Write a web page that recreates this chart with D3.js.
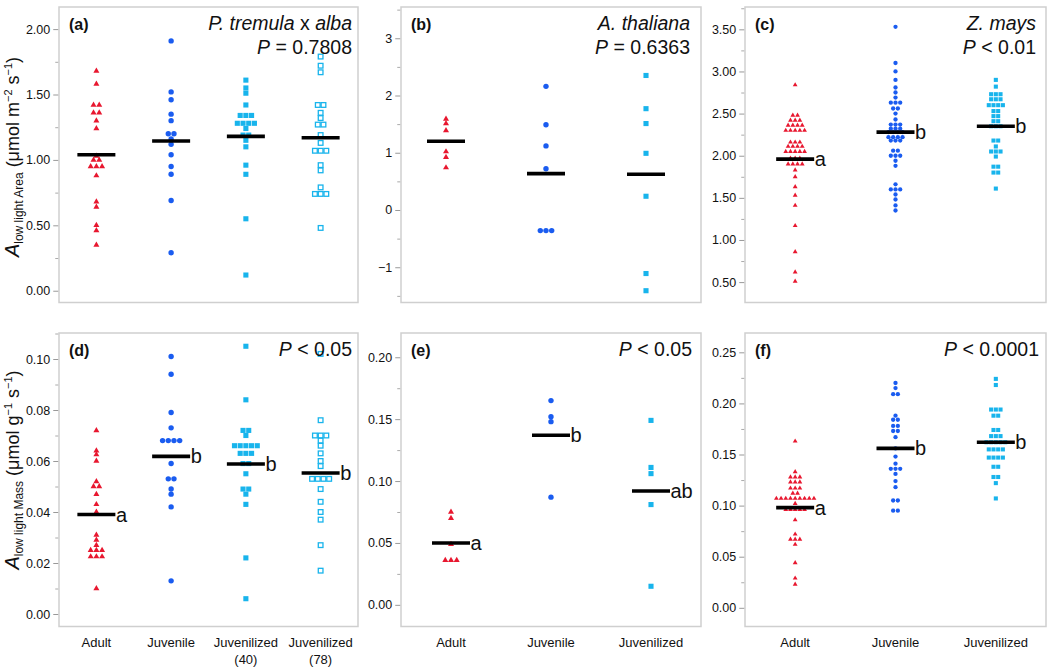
<!DOCTYPE html>
<html><head><meta charset="utf-8">
<script src="https://cdn.jsdelivr.net/npm/d3@7"></script>
<style>
body{margin:0;background:#fff}
svg{display:block}
text{font-family:"Liberation Sans",Arial,Helvetica,sans-serif}
</style>
</head><body>
<svg id="chart" width="1050" height="671"></svg>
<script>
// ---------------- DATA ----------------
const catsPoplar = ["Adult", "Juvenile", "Juvenilized (40)", "Juvenilized (78)"];
const catsOther = ["Adult", "Juvenile", "Juvenilized"];
const xLabelsPoplar = [["Adult"], ["Juvenile"], ["Juvenilized", "(40)"], ["Juvenilized", "(78)"]];
const xLabelsOther = [["Adult"], ["Juvenile"], ["Juvenilized"]];

// (a) P. tremula x alba, area basis
const aAdult = [1.68, 1.58, 1.42, 1.42, 1.36, 1.36, 1.30, 1.24, 1.03, 1.00, 1.00, 0.95, 0.95, 0.95, 0.88, 0.68, 0.64, 0.50, 0.46, 0.35];
const aJuvenile = [1.91, 1.52, 1.46, 1.35, 1.30, 1.20, 1.20, 1.16, 1.12, 1.04, 0.95, 0.89, 0.69, 0.29];
const aJuvenilized40 = [1.61, 1.55, 1.51, 1.42, 1.34, 1.34, 1.34, 1.28, 1.28, 1.28, 1.28, 1.24, 1.19, 1.19, 1.15, 1.10, 0.96, 0.89, 0.55, 0.12];
const aJuvenilized78 = [1.79, 1.72, 1.67, 1.42, 1.42, 1.36, 1.32, 1.27, 1.27, 1.19, 1.13, 1.07, 1.07, 1.07, 0.96, 0.92, 0.79, 0.74, 0.74, 0.74, 0.48];
const aMeans = [1.04, 1.145, 1.18, 1.17];

// (b) A. thaliana, area basis
const bAdult = [1.59, 1.51, 1.39, 1.02, 0.92, 0.74];
const bJuvenile = [2.16, 1.49, 1.12, 0.72, -0.36, -0.36, -0.36];
const bJuvenilized = [2.35, 1.77, 1.51, 0.99, 0.24, -1.11, -1.41];
const bMeans = [1.20, 0.635, 0.625];

// (c) Z. mays, area basis
const cAdult = [2.84, 2.48, 2.48, 2.42, 2.42, 2.42, 2.36, 2.36, 2.36, 2.36, 2.30, 2.30, 2.30, 2.30, 2.30,
  2.16, 2.16, 2.16, 2.11, 2.11, 2.11, 2.11, 2.05, 2.05, 2.05, 2.05, 2.05, 1.97, 1.97, 1.97,
  1.90, 1.90, 1.90, 1.90, 1.83, 1.75, 1.63, 1.53, 1.41, 1.17, 0.86, 0.62, 0.51];
const cJuvenile = [3.53, 3.10, 3.00, 2.90, 2.81, 2.75, 2.69, 2.63, 2.63, 2.63, 2.56, 2.56, 2.50, 2.43,
  2.37, 2.37, 2.37, 2.32, 2.32, 2.32, 2.28, 2.28, 2.28, 2.28, 2.22, 2.22, 2.22, 2.22, 2.18, 2.18, 2.18,
  2.06, 2.06, 2.00, 2.00, 2.00, 1.94, 1.88, 1.66, 1.60, 1.60, 1.60, 1.54, 1.48, 1.41, 1.35];
const cJuvenilized = [2.90, 2.82, 2.73, 2.73, 2.73, 2.67, 2.67, 2.67, 2.60, 2.60, 2.60, 2.60, 2.53, 2.53,
  2.47, 2.47, 2.41, 2.41, 2.35, 2.35, 2.35, 2.18, 2.18, 2.11, 2.05, 2.05, 2.05, 1.99, 1.87, 1.87, 1.80, 1.80, 1.61];
const cMeans = [1.96, 2.28, 2.35];

// (d) P. tremula x alba, mass basis
const dAdult = [0.072, 0.064, 0.0625, 0.060, 0.052, 0.050, 0.050, 0.047, 0.043, 0.040, 0.031, 0.029, 0.027, 0.025, 0.025, 0.025, 0.0225, 0.0225, 0.0225, 0.010];
const dJuvenile = [0.101, 0.094, 0.079, 0.073, 0.068, 0.068, 0.068, 0.068, 0.059, 0.053, 0.053, 0.049, 0.047, 0.042, 0.013];
const dJuvenilized40 = [0.105, 0.084, 0.072, 0.072, 0.070, 0.066, 0.066, 0.066, 0.066, 0.066, 0.063, 0.063, 0.063, 0.059, 0.059, 0.055, 0.049, 0.049, 0.047, 0.043, 0.022, 0.006];
const dJuvenilized78 = [0.102, 0.076, 0.070, 0.070, 0.070, 0.068, 0.066, 0.063, 0.060, 0.058, 0.053, 0.053, 0.053, 0.053, 0.049, 0.044, 0.040, 0.037, 0.027, 0.017];
const dMeans = [0.039, 0.0618, 0.0588, 0.0553];
const dLetters = ["a", "b", "b", "b"];

// (e) A. thaliana, mass basis
const eAdult = [0.075, 0.070, 0.049, 0.036, 0.036, 0.036];
const eJuvenile = [0.165, 0.152, 0.148, 0.087];
const eJuvenilized = [0.149, 0.111, 0.106, 0.081, 0.015];
const eMeans = [0.050, 0.137, 0.092];
const eLetters = ["a", "b", "ab"];

// (f) Z. mays, mass basis
const fAdult = [0.163, 0.133, 0.128, 0.128, 0.128, 0.123, 0.123, 0.123, 0.117, 0.117, 0.117, 0.112, 0.112,
  0.107, 0.107, 0.107, 0.107, 0.107, 0.107, 0.107, 0.107, 0.107, 0.102, 0.096, 0.096, 0.096, 0.096, 0.096,
  0.086, 0.072, 0.067, 0.067, 0.067, 0.062, 0.044, 0.029, 0.023];
const fJuvenile = [0.220, 0.215, 0.209, 0.209, 0.188, 0.184, 0.184, 0.178, 0.178, 0.173, 0.173, 0.167, 0.156,
  0.148, 0.141, 0.136, 0.136, 0.136, 0.131, 0.124, 0.118, 0.105, 0.105, 0.095, 0.095];
const fJuvenilized = [0.224, 0.218, 0.194, 0.194, 0.194, 0.188, 0.188, 0.174, 0.174, 0.168, 0.168, 0.168,
  0.162, 0.162, 0.162, 0.162, 0.162, 0.155, 0.155, 0.155, 0.155, 0.147, 0.147, 0.147, 0.147,
  0.138, 0.138, 0.128, 0.128, 0.122, 0.107];
const fMeans = [0.098, 0.156, 0.162];
const cfLetters = ["a", "b", "b"];

// tick labels
const ticksA = [0, 0.5, 1, 1.5, 2];
const ticksB = [-1, 0, 1, 2, 3];
const ticksC = [0.5, 1, 1.5, 2, 2.5, 3, 3.5];
const ticksD = [0, 0.02, 0.04, 0.06, 0.08, 0.1];
const ticksE = [0, 0.05, 0.1, 0.15, 0.2];
const ticksF = [0, 0.05, 0.1, 0.15, 0.2, 0.25];

// ---------------- DRAW ----------------
const svg = d3.select("#chart");
const COLORS = ["#e8172f", "#1a5cf0", "#18b4ec", "#18b4ec"];
const SHAPES = ["triangle", "circle", "square", "hollow"];

function marker(g, shape, cx, cy, s, color) {
  if (shape === "triangle") {
    const area = Math.sqrt(3) / 4 * s * s;
    g.append("path").attr("d", d3.symbol().type(d3.symbolTriangle).size(area)())
      .attr("transform", `translate(${cx},${cy})`).attr("fill", color);
  } else if (shape === "circle") {
    g.append("circle").attr("cx", cx).attr("cy", cy).attr("r", s * 0.45).attr("fill", color);
  } else if (shape === "square") {
    const w = s * 0.85;
    g.append("rect").attr("x", cx - w / 2).attr("y", cy - w / 2).attr("width", w).attr("height", w).attr("fill", color);
  } else {
    const w = s * 0.78;
    g.append("rect").attr("x", cx - w / 2).attr("y", cy - w / 2).attr("width", w).attr("height", w)
      .attr("fill", "#fff").attr("stroke", color).attr("stroke-width", 1.3);
  }
}

function drawPanel(p) {
  const g = svg.append("g");
  const x = d3.scalePoint().domain(p.cats).range([p.x0 + p.shift, p.x1 + p.shift]).padding(0.5);
  const y = d3.scaleLinear().domain(p.domain).range([p.y1, p.y0]);

  g.append("rect").attr("x", p.x0).attr("y", p.y0).attr("width", p.x1 - p.x0).attr("height", p.y1 - p.y0)
    .attr("fill", "none").attr("stroke", "#cfcfcf").attr("stroke-width", 1.5);

  const step = p.ticks[1] - p.ticks[0];
  const minor = p.ticks.map(t => t + step / 2).filter(t => t < p.domain[1]);
  if (p.ticks[0] - step / 2 > p.domain[0]) minor.unshift(p.ticks[0] - step / 2);
  g.append("g").attr("transform", `translate(${p.x0 - 0.75},0)`)
    .call(d3.axisLeft(y).tickValues(minor).tickSize(3).tickFormat(""))
    .call(s => s.select(".domain").remove())
    .call(s => s.selectAll("line").attr("stroke", "#aaa"));
  g.append("g").attr("transform", `translate(${p.x0 - 0.75},0)`)
    .call(d3.axisLeft(y).tickValues(p.ticks).tickSize(5).tickPadding(3).tickFormat(p.fmt))
    .call(s => s.select(".domain").remove())
    .call(s => s.selectAll("line").attr("stroke", "#999"))
    .call(s => s.selectAll("text").attr("font-size", 12.5).attr("fill", "#111")
      .attr("font-family", '"Liberation Sans", Arial, sans-serif'));

  p.series.forEach((vals, i) => {
    const cx = x(p.cats[i]);
    d3.groups(vals, v => v).forEach(([v, arr]) => {
      arr.forEach((_, k) => {
        const dx = (k - (arr.length - 1) / 2) * p.sp;
        marker(g, SHAPES[i], cx + dx, y(v), p.ms, COLORS[i]);
      });
    });
  });

  p.means.forEach((m, i) => {
    const cx = x(p.cats[i]);
    g.append("line").attr("x1", cx - 19).attr("x2", cx + 19).attr("y1", y(m)).attr("y2", y(m))
      .attr("stroke", "#000").attr("stroke-width", 3.6);
    if (p.letters) {
      g.append("text").attr("x", cx + 19.5).attr("y", y(m) + 7).attr("font-size", 20).attr("fill", "#111")
        .text(p.letters[i]);
    }
  });

  g.append("text").attr("x", p.x0 + 10).attr("y", p.y0 + 23).attr("font-size", 16).attr("font-weight", "bold")
    .attr("fill", "#111").text(p.label);

  if (p.species) {
    const t = g.append("text").attr("x", p.tx).attr("y", p.y0 + 23).attr("text-anchor", "end")
      .attr("font-size", 19.5).attr("fill", "#111");
    p.species.forEach(([s, it]) => t.append("tspan").attr("font-style", it ? "italic" : "normal").text(s));
  }
  const pt = g.append("text").attr("x", p.tx).attr("y", p.y0 + (p.species ? 47 : 23)).attr("text-anchor", "end")
    .attr("font-size", 19.5).attr("fill", "#111");
  pt.append("tspan").attr("font-style", "italic").text("P");
  pt.append("tspan").text(p.ptext);

  if (p.xlabels) {
    p.xlabels.forEach((lines, i) => {
      const t = g.append("text").attr("x", x(p.cats[i])).attr("y", 647).attr("text-anchor", "middle")
        .attr("font-size", 13).attr("fill", "#111");
      lines.forEach((l, j) => t.append("tspan").attr("x", x(p.cats[i])).attr("dy", j ? 17 : 0).text(l));
    });
  }
}

const f2 = d3.format(".2f");
const rowTop = [7, 302.5], rowBot = [333, 626.5];
const col1 = [59, 358], col2 = [401, 701], col3 = [745, 1046];

drawPanel({label: "(a)", x0: col1[0], x1: col1[1], y0: rowTop[0], y1: rowTop[1], shift: 0,
  cats: catsPoplar, domain: [-0.09, 2.169], ticks: ticksA, fmt: f2,
  series: [aAdult, aJuvenile, aJuvenilized40, aJuvenilized78], means: aMeans, sp: 5.7, ms: 6,
  species: [["P. tremula", true], [" x ", false], ["alba", true]], ptext: " = 0.7808", tx: 352});
drawPanel({label: "(b)", x0: col2[0], x1: col2[1], y0: rowTop[0], y1: rowTop[1], shift: -5,
  cats: catsOther, domain: [-1.616, 3.546], ticks: ticksB, fmt: d3.format("d"),
  series: [bAdult, bJuvenile, bJuvenilized], means: bMeans, sp: 5.7, ms: 6,
  species: [["A. thaliana", true]], ptext: " = 0.6363", tx: 690});
drawPanel({label: "(c)", x0: col3[0], x1: col3[1], y0: rowTop[0], y1: rowTop[1], shift: 0,
  cats: catsOther, domain: [0.258, 3.765], ticks: ticksC, fmt: f2,
  series: [cAdult, cJuvenile, cJuvenilized], means: cMeans, letters: cfLetters, sp: 4.7, ms: 4.8,
  species: [["Z. mays", true]], ptext: " < 0.01", tx: 1036});
drawPanel({label: "(d)", x0: col1[0], x1: col1[1], y0: rowBot[0], y1: rowBot[1], shift: 0,
  cats: catsPoplar, domain: [-0.0049, 0.1102], ticks: ticksD, fmt: f2,
  series: [dAdult, dJuvenile, dJuvenilized40, dJuvenilized78], means: dMeans, letters: dLetters, sp: 5.7, ms: 6,
  ptext: " < 0.05", tx: 352, xlabels: xLabelsPoplar});
drawPanel({label: "(e)", x0: col2[0], x1: col2[1], y0: rowBot[0], y1: rowBot[1], shift: 0,
  cats: catsOther, domain: [-0.0175, 0.2196], ticks: ticksE, fmt: f2,
  series: [eAdult, eJuvenile, eJuvenilized], means: eMeans, letters: eLetters, sp: 5.7, ms: 6,
  ptext: " < 0.05", tx: 692, xlabels: xLabelsOther});
drawPanel({label: "(f)", x0: col3[0], x1: col3[1], y0: rowBot[0], y1: rowBot[1], shift: 0,
  cats: catsOther, domain: [-0.0183, 0.2689], ticks: ticksF, fmt: f2,
  series: [fAdult, fJuvenile, fJuvenilized], means: fMeans, letters: cfLetters, sp: 4.7, ms: 4.8,
  ptext: " < 0.0001", tx: 1039, xlabels: xLabelsOther});

// y-axis titles
function yTitle(cy, sub, unitParts) {
  const t = svg.append("text").attr("transform", `translate(19,${cy}) rotate(-90)`)
    .attr("text-anchor", "middle").attr("fill", "#111").attr("font-size", 18);
  t.append("tspan").attr("font-style", "italic").attr("font-size", 20).text("A");
  t.append("tspan").attr("font-size", 12).attr("dy", 4).text(sub);
  let shifted = 4;
  unitParts.forEach(([s, sup]) => {
    const want = sup ? -7 : 0;
    t.append("tspan").attr("font-size", sup ? 11 : 18).attr("dy", want - shifted).text(s);
    shifted = want;
  });
}
yTitle(157, "low light Area", [[" (μmol m", false], ["−2", true], [" s", false], ["−1", true], [")", false]]);
yTitle(470, "low light Mass", [[" (μmol g", false], ["−1", true], [" s", false], ["−1", true], [")", false]]);
</script>
</body></html>
